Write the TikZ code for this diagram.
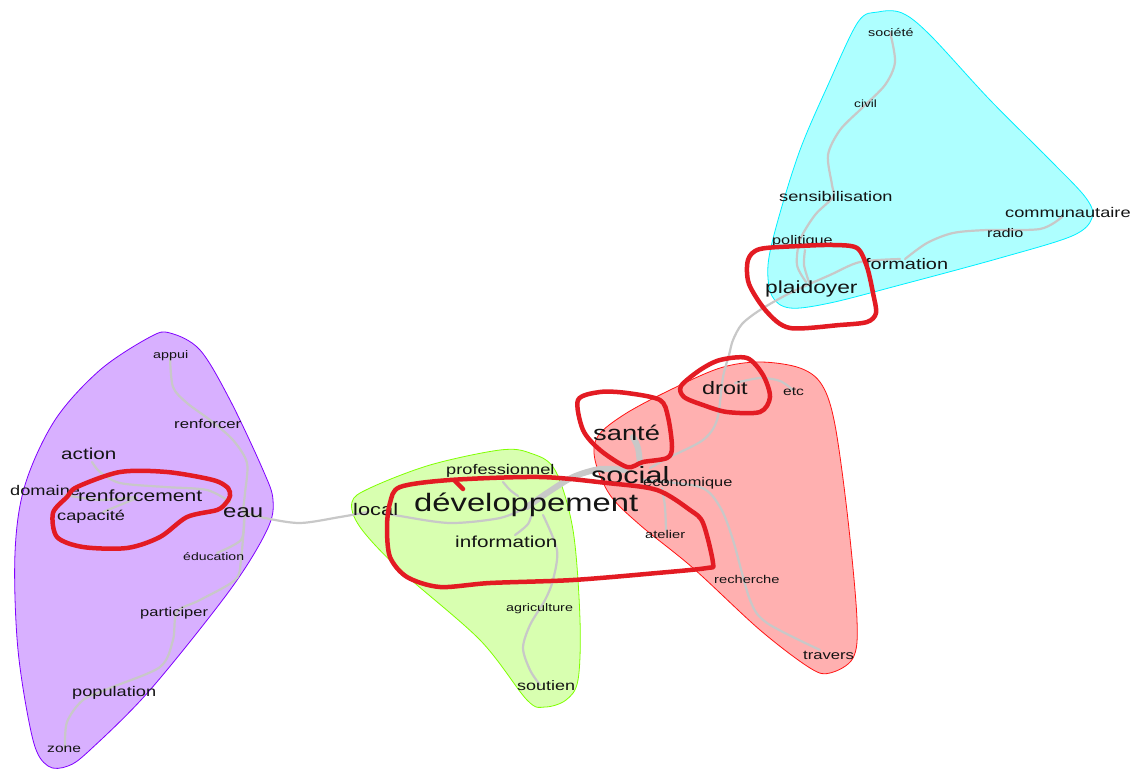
\documentclass[tikz,border=0pt]{standalone}
\usepackage{fontspec}
\setmainfont{Liberation Sans}[FakeStretch=1.3]
\definecolor{cyanfill}{RGB}{174,255,255}
\definecolor{cyanline}{RGB}{0,240,255}
\definecolor{redfill}{RGB}{255,176,176}
\definecolor{redline}{RGB}{255,20,20}
\definecolor{grnfill}{RGB}{216,255,176}
\definecolor{grnline}{RGB}{128,255,0}
\definecolor{purfill}{RGB}{216,176,255}
\definecolor{purline}{RGB}{128,0,255}
\definecolor{edgegrey}{RGB}{200,200,200}
\definecolor{penred}{RGB}{227,27,35}
\definecolor{ink}{RGB}{20,20,20}
\tikzset{
  hull/.style={line width=0.8pt},
  edge/.style={draw=edgegrey, line width=2.2pt, line cap=round, line join=round},
  bigedge/.style={draw=edgegrey, line width=6pt, line cap=round, line join=round},
  penline/.style={draw=penred, line width=4.5pt, line cap=round, line join=round},
  w/.style={anchor=base west, inner sep=0pt, text=ink, font=\fontsize{#1}{#1}\selectfont},
}
\begin{document}
\begin{tikzpicture}[x=1pt,y=-1pt]
\useasboundingbox (0,0) rectangle (1134,769);
\fill[white] (0,0) rectangle (1134,769);

% ---------- hulls ----------
\draw[hull, fill=cyanfill, draw=cyanline] plot[smooth cycle, tension=0.55] coordinates {
 (878,12) (902,13) (930,35) (990,100) (1050,160) (1086,198) (1092,218) (1072,236)
 (1000,258) (900,285) (830,303) (790,308) (772,296) (768,265) (778,220) (800,150)
 (828,85) (858,22)};
\draw[hull, fill=redfill, draw=redline] plot[smooth cycle, tension=0.55] coordinates {
 (760,362) (800,368) (822,385) (835,425) (848,520) (857,620) (853,658) (830,673)
 (810,668) (760,630) (693,568) (640,525) (610,495) (595,460) (598,436) (625,414)
 (670,390) (720,368)};
\draw[hull, fill=grnfill, draw=grnline] plot[smooth cycle, tension=0.55] coordinates {
 (500,450) (530,453) (555,470) (573,530) (580,620) (578,680) (566,700) (545,707)
 (527,700) (480,640) (400,570) (360,527) (352,502) (370,488) (430,465)};
\draw[hull, fill=purfill, draw=purline] plot[smooth cycle, tension=0.55] coordinates {
 (170,333) (200,350) (230,400) (263,470) (273,500) (267,530) (230,590) (150,690)
 (90,750) (68,766) (48,766) (33,740) (18,650) (15,553) (25,485) (55,420) (100,370)
 (150,337)};

% ---------- edges ----------
% cyan cluster
\draw[edge] plot[smooth] coordinates {(890,32) (895,62) (885,85) (862,108) (840,130) (828,155) (832,185) (833,197) (815,215) (800,240) (797,265) (806,282)};
\draw[edge] plot[smooth] coordinates {(805,250) (804,265) (809,282)};
\draw[edge] plot[smooth] coordinates {(905,259) (927,243) (953,233) (987,230) (1040,229) (1062,217)};
% formation - plaidoyer - droit - social
\draw[edge] plot[smooth] coordinates {(900,259) (860,262) (830,275) (790,293) (760,310) (742,324) (733,340) (729,355) (723,377) (717,420) (703,440) (670,457) (650,468)};
% red cluster
\draw[edge] plot[smooth] coordinates {(735,383) (760,378) (780,381) (793,390)};
\draw[edge] plot[smooth] coordinates {(643,480) (700,487) (720,507) (733,540) (750,600) (767,623) (820,650)};
\draw[edge] plot[smooth] coordinates {(662,488) (665,507) (666,530)};
\draw[bigedge] plot[smooth] coordinates {(633,437) (638,448) (640,464)};
% green cluster
\draw[edge] plot[smooth] coordinates {(243,512) (265,518) (300,523) (340,517) (368,512)};
\draw[edge] plot[smooth] coordinates {(385,513) (400,516) (450,523) (500,518) (527,507)};
\draw[bigedge] plot[smooth] coordinates {(527,507) (547,493) (573,477) (600,469) (625,470)};
\draw[edge] plot[smooth] coordinates {(503,482) (510,490) (518,496)};
\draw[edge] plot[smooth] coordinates {(533,510) (528,524) (515,535)};
\draw[edge] plot[smooth] coordinates {(543,515) (557,550) (553,580) (545,600) (530,625) (523,648) (530,670) (540,685)};
% purple cluster
\draw[edge] plot[smooth] coordinates {(170,357) (173,387) (187,403) (210,420) (233,440) (247,463) (245,493) (243,510)};
\draw[edge] plot[smooth] coordinates {(244,520) (241,540) (217,553)};
\draw[edge] plot[smooth] coordinates {(245,510) (241,560) (235,580) (200,600) (177,612) (173,640) (160,667) (110,688) (83,700) (67,722) (65,748)};
\draw[edge] plot[smooth] coordinates {(92,462) (100,472) (120,483) (165,487) (207,490) (230,502)};
\draw[edge] plot[smooth] coordinates {(65,495) (100,500) (135,497)};
\draw[edge] plot[smooth] coordinates {(103,512) (120,505) (137,498)};

% ---------- words ----------
\node[w=11] (societe) at (868,36) {société};
\node[w=10.5] (civil) at (854,107) {civil};
\node[w=14] (sensib) at (779,201) {sensibilisation};
\node[w=14] (commun) at (1005,217) {communautaire};
\node[w=12.5] (radio) at (987,237) {radio};
\node[w=12.5] (politique) at (772,244) {politique};
\node[w=15.3] (formation) at (865,269) {formation};
\node[w=17.5] (plaidoyer) at (765,293) {plaidoyer};

\node[w=18] (droit) at (702,394) {droit};
\node[w=12] (etc) at (783,395) {etc};
\node[w=21] (sante) at (593,440) {santé};
\node[w=12.6] (econ) at (643,486) {économique};
\node[w=23.5] (social) at (591,483) {social};
\node[w=11.3] (atelier) at (645,538) {atelier};
\node[w=11.3] (recherche) at (714,583) {recherche};
\node[w=12.8] (travers) at (803,659) {travers};

\node[w=14] (prof) at (446,474) {professionnel};
\node[w=25.2] (dev) at (414,511) {développement};
\node[w=16.8] (local) at (353,515) {local};
\node[w=15.9] (info) at (455,547) {information};
\node[w=11] (agri) at (506,611) {agriculture};
\node[w=13.8] (soutien) at (517,690) {soutien};

\node[w=11] (appui) at (153,358) {appui};
\node[w=12.9] (renforcer) at (174,428) {renforcer};
\node[w=15.9] (action) at (61,459) {action};
\node[w=14] (domaine) at (10,495) {domaine};
\node[w=16.2] (renfmt) at (78,501) {renforcement};
\node[w=14] (capacite) at (57,520) {capacité};
\node[w=18.4] (eau) at (223,517) {eau};
\node[w=10.8] (educ) at (183,560) {éducation};
\node[w=12.7] (particip) at (140,616) {participer};
\node[w=14] (popul) at (72,696) {population};
\node[w=12] (zone) at (47,752) {zone};

% ---------- hand-drawn red loops ----------
\draw[penline] plot[smooth cycle, tension=0.5] coordinates {
 (760,249) (800,246) (833,245) (857,248) (867,267) (873,293) (876,313) (867,322)
 (840,325) (790,328) (767,312) (749,284) (748,260)};
\draw[penline] plot[smooth cycle, tension=0.5] coordinates {
 (681,386) (700,370) (720,360) (747,358) (763,375) (770,397) (760,412) (727,412)
 (703,405) (684,397)};
\draw[penline] plot[smooth cycle, tension=0.5] coordinates {
 (578,400) (600,392) (627,393) (660,400) (668,417) (672,447) (667,458) (643,462)
 (627,467) (600,450) (583,430)};
\draw[penline] plot[smooth cycle, tension=0.5] coordinates {
 (400,487) (450,480) (540,477) (607,483) (657,490) (690,510) (703,523) (713,563)
 (707,568) (657,573) (573,580) (490,583) (440,587) (407,577) (390,557) (387,527)
 (390,503)};
\draw[penline] (463,489) -- (455,481);
\draw[penline] plot[smooth cycle, tension=0.5] coordinates {
 (77,487) (120,472) (167,472) (213,480) (228,488) (230,496) (226,503) (217,510)
 (187,517) (160,537) (127,548) (83,547) (57,537) (53,513) (67,497)};
\end{tikzpicture}
\end{document}
